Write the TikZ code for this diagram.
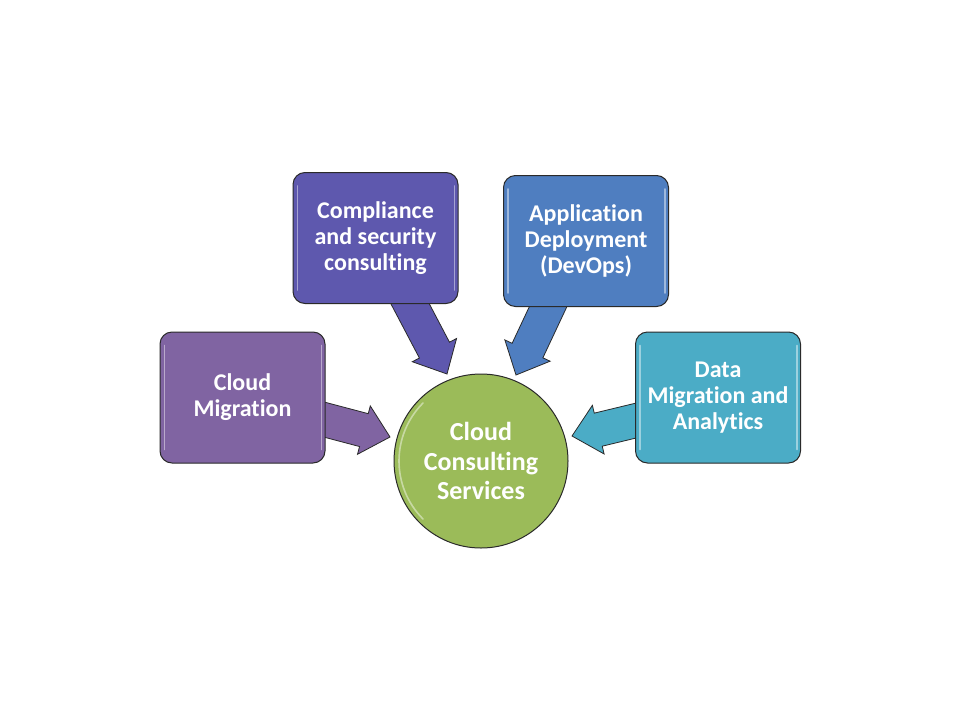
\documentclass[tikz,border=0pt]{standalone}
\usepackage{fontspec}
\setmainfont{Carlito}[Ligatures={NoCommon,NoRare,NoContextual}]
\usetikzlibrary{calc}
\definecolor{cOne}{HTML}{8064A2}
\definecolor{cTwo}{HTML}{5E58AE}
\definecolor{cThree}{HTML}{4F7EC0}
\definecolor{cFour}{HTML}{4BACC6}
\definecolor{cHub}{HTML}{9BBB59}
\definecolor{cLine}{HTML}{2A2A2A}
\newcommand\blockarr[4]{%
  \coordinate (#1s) at #2;
  \coordinate (#1t) at #3;
  \coordinate (#1h) at ($(#1t)!27pt!(#1s)$);
  \filldraw[barrow, fill=#4]
    ($(#1s)!17pt!90:(#1t)$) -- ($(#1h)!17pt!90:(#1t)$) -- ($(#1h)!25pt!90:(#1t)$)
    -- (#1t) -- ($(#1h)!25pt!-90:(#1t)$) -- ($(#1h)!17pt!-90:(#1t)$)
    -- ($(#1s)!17pt!-90:(#1t)$) -- cycle;
}
\newcommand\gloss[1]{%
  \draw[glossline] ([shift={(5,14)}]#1.north west) -- ([shift={(5,-14)}]#1.south west);
  \draw[glossline] ([shift={(-4,14)}]#1.north east) -- ([shift={(-4,-14)}]#1.south east);
}
\begin{document}
\begin{tikzpicture}[x=1pt,y=-1pt,
  box/.style={draw=cLine, line width=1pt, rounded corners=12pt,
    minimum width=165pt, minimum height=131pt, inner sep=0pt,
    text=white, align=center, font=\bfseries\fontsize{24}{26}\selectfont},
  hubnode/.style={circle, draw=cLine, line width=1pt, fill=cHub,
    minimum size=174pt, inner sep=0pt, text=white, align=center,
    font=\bfseries\fontsize{26}{29.5}\selectfont},
  barrow/.style={draw=cLine, line width=0.8pt, line join=miter},
  glossline/.style={draw=white, opacity=0.45, line width=1.6pt, line cap=round}]
\useasboundingbox[fill=white] (0,0) rectangle (960,720);

% block arrows (drawn first, boxes cover their tails)
\blockarr{a}{(303,414)}{(390,437)}{cOne}
\blockarr{b}{(396,277)}{(447,374)}{cTwo}
\blockarr{c}{(563,275)}{(516,375)}{cThree}
\blockarr{d}{(659,415)}{(572,436)}{cFour}

% boxes
\node[box, fill=cOne] (mig) at (242.5,397.5) {Cloud\\Migration};
\node[box, fill=cTwo] (comp) at (375.5,238) {Compliance\\and security\\consulting};
\node[box, fill=cThree] (app) at (586,241) {Application\\Deployment\\(DevOps)};
\node[box, fill=cFour] (data) at (718,397.5) {Data\\Migration and\\Analytics};
\gloss{mig}
\gloss{comp}
\gloss{app}
\gloss{data}

% hub
\node[hubnode] (hub) at (481,461) {Cloud\\Consulting\\Services};
\draw[glossline] (hub.center) ++(135:82) arc[start angle=135, end angle=225, radius=82];
\end{tikzpicture}
\end{document}
